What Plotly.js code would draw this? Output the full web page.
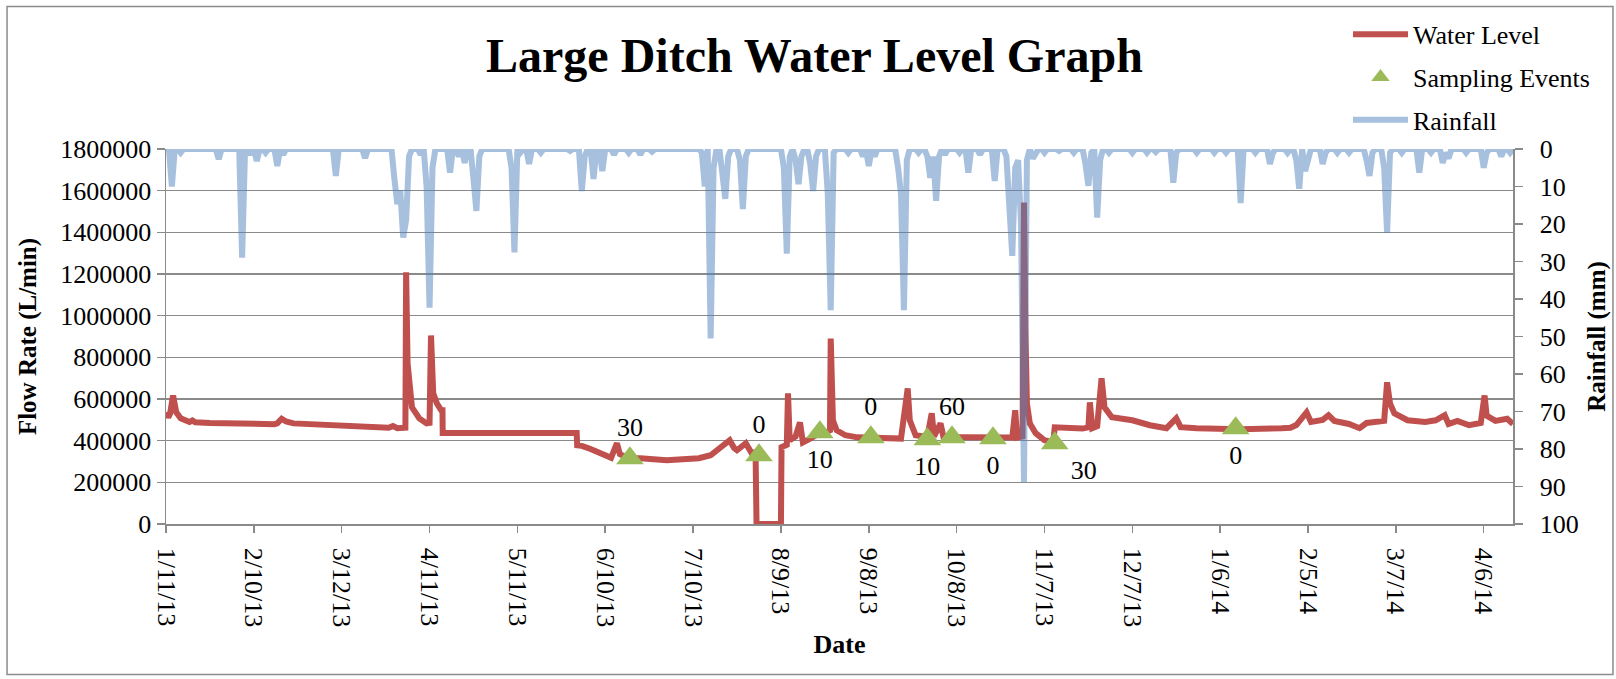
<!DOCTYPE html>
<html>
<head>
<meta charset="utf-8">
<script src="https://cdn.plot.ly/plotly-3.0.1.min.js"></script>
<style>
  html, body { margin: 0; padding: 0; background: #fff; }
  #chart { width: 1616px; height: 679px; }
</style>
</head>
<body>
<div id="chart"></div>
<script>
// ---------------- DATA ----------------
const wlDates = [
  '2013-01-11 00:00','2013-01-11 18:00','2013-01-12 10:00','2013-01-13 10:00','2013-01-14 12:00',
  '2013-01-16','2013-01-19','2013-01-20','2013-01-21','2013-01-26','2013-02-17','2013-02-18',
  '2013-02-19 12:00','2013-02-21','2013-02-23 12:00','2013-03-02','2013-03-07','2013-03-08',
  '2013-03-12','2013-03-18','2013-03-24','2013-03-28','2013-03-29 12:00','2013-03-31',
  '2013-04-02 18:00','2013-04-03 00:00','2013-04-03 12:00','2013-04-05 00:00','2013-04-07 12:00',
  '2013-04-10 00:00','2013-04-11 00:00','2013-04-11 12:00','2013-04-12 06:00','2013-04-13 12:00',
  '2013-04-15 00:00','2013-04-15 10:00','2013-04-15 12:00','2013-05-31 06:00','2013-05-31 10:00',
  '2013-06-02','2013-06-05','2013-06-08','2013-06-10','2013-06-12','2013-06-14','2013-06-15',
  '2013-06-18','2013-06-22','2013-07-01','2013-07-12','2013-07-16','2013-07-18','2013-07-20',
  '2013-07-22 12:00','2013-07-24','2013-07-25','2013-07-28','2013-07-30','2013-07-31 08:00',
  '2013-07-31 16:00','2013-08-09 00:00','2013-08-09 05:00','2013-08-11 00:00','2013-08-11 10:00',
  '2013-08-12','2013-08-14','2013-08-15 12:00','2013-08-16 12:00','2013-08-19','2013-08-21',
  '2013-08-24','2013-08-25 18:00','2013-08-26 00:00','2013-08-26 18:00','2013-08-28','2013-08-31',
  '2013-09-04','2013-09-13','2013-09-19','2013-09-21 07:00','2013-09-22','2013-09-24','2013-09-28',
  '2013-09-29 12:00','2013-09-30 07:00','2013-10-02 12:00','2013-10-03 12:00','2013-10-11 12:00',
  '2013-10-23','2013-10-27','2013-10-28 00:00','2013-10-28 16:00','2013-10-30 12:00',
  '2013-10-31 00:00','2013-10-31 12:00','2013-11-01','2013-11-02','2013-11-04','2013-11-07',
  '2013-11-10 00:00','2013-11-10 12:00','2013-11-15','2013-11-20','2013-11-22 00:00',
  '2013-11-22 12:00','2013-11-23 08:00','2013-11-25','2013-11-26 12:00','2013-11-27 12:00',
  '2013-11-30','2013-12-07','2013-12-13','2013-12-18 16:00','2013-12-22','2013-12-23 12:00',
  '2013-12-29','2014-01-10','2014-01-12 16:00','2014-01-27','2014-01-30','2014-02-01',
  '2014-02-04 12:00','2014-02-06','2014-02-10','2014-02-12','2014-02-14','2014-02-19',
  '2014-02-22 14:00','2014-02-25','2014-03-01','2014-03-03','2014-03-04','2014-03-05',
  '2014-03-06 12:00','2014-03-11','2014-03-17','2014-03-20 14:00','2014-03-23 16:00','2014-03-25',
  '2014-03-28','2014-04-01','2014-04-05','2014-04-06 07:00','2014-04-07','2014-04-10','2014-04-14',
  '2014-04-16'
];
const wlFlow = [
  536000,512000,530000,617000,536000,
  507000,490000,497000,488000,485000,479000,483000,
  505000,492000,483000,478000,474000,480000,
  472000,469000,466000,462000,470000,460000,
  462000,1208000,770000,560000,507000,
  483000,485000,905000,627000,579000,
  546000,546000,437000,437000,378000,
  375000,360000,345000,330000,318000,388000,335000,
  316000,316000,306000,316000,330000,354000,370000,
  402000,365000,354000,388000,340000,345000,
  0,0,369000,380000,627000,
  402000,420000,488000,392000,410000,426000,
  440000,450000,890000,498000,450000,426000,
  416000,412000,410000,651000,498000,426000,418000,
  531000,420000,483000,418000,416000,
  412000,415000,546000,415000,420000,
  1543000,929000,579000,483000,436000,402000,
  392000,464000,460000,458000,464000,
  584000,460000,470000,699000,560000,
  512000,498000,474000,460000,507000,465000,
  460000,450000,455000,460000,462000,475000,
  536000,490000,500000,522000,495000,480000,
  460000,485000,490000,495000,680000,579000,
  531000,498000,490000,498000,522000,480000,
  495000,474000,485000,617000,520000,495000,505000,
  480000
];

const sampleDates = ['2013-06-18 10:00','2013-08-01 12:00','2013-08-22 07:00','2013-09-08 17:00',
  '2013-09-28 00:00','2013-10-06 10:00','2013-10-20 10:00','2013-11-10 12:00','2014-01-11 07:00'];
const sampleFlow = [316000,330000,440000,416000,407000,416000,412000,388000,460000];
const sampleLabels = ['30','0','10','0','10','60','0','30','0'];

const rainDates = [
  '2013-01-13','2013-01-16','2013-01-29','2013-02-06','2013-02-09','2013-02-11','2013-02-14',
  '2013-02-18','2013-02-20','2013-03-10','2013-03-20','2013-03-30','2013-03-31','2013-04-01',
  '2013-04-02','2013-04-03','2013-04-04','2013-04-08','2013-04-10','2013-04-11','2013-04-12',
  '2013-04-18','2013-04-21','2013-04-23','2013-04-26','2013-04-27','2013-04-28','2013-05-09',
  '2013-05-10','2013-05-12','2013-05-15','2013-05-19','2013-05-29','2013-06-02','2013-06-03',
  '2013-06-06','2013-06-09','2013-06-13','2013-06-18','2013-06-22','2013-06-26','2013-07-13',
  '2013-07-14','2013-07-16','2013-07-17','2013-07-20','2013-07-21','2013-07-22','2013-07-26',
  '2013-07-27','2013-07-28','2013-08-10','2013-08-11','2013-08-12','2013-08-14','2013-08-15',
  '2013-08-16','2013-08-19','2013-08-20','2013-08-21','2013-08-25','2013-08-26','2013-08-27',
  '2013-09-01','2013-09-06','2013-09-08','2013-09-10','2013-09-18','2013-09-19','2013-09-20',
  '2013-09-21','2013-09-25','2013-09-28','2013-09-29','2013-09-30','2013-10-01','2013-10-02',
  '2013-10-04','2013-10-09','2013-10-12','2013-10-16','2013-10-21','2013-10-25','2013-10-26',
  '2013-10-27','2013-10-28','2013-10-29','2013-10-30','2013-10-31','2013-11-01','2013-11-03',
  '2013-11-04','2013-11-07','2013-11-12','2013-11-17','2013-11-21','2013-11-22','2013-11-23',
  '2013-11-25','2013-11-26','2013-11-29','2013-12-07','2013-12-12','2013-12-15','2013-12-21',
  '2013-12-22','2013-12-29','2014-01-04','2014-01-08','2014-01-13','2014-01-18','2014-01-23',
  '2014-01-24','2014-01-29','2014-02-01','2014-02-02','2014-02-04','2014-02-05','2014-02-10',
  '2014-02-11','2014-02-15','2014-02-19','2014-02-25','2014-02-26','2014-02-27','2014-03-03',
  '2014-03-04','2014-03-05','2014-03-09','2014-03-15','2014-03-19','2014-03-23','2014-03-24',
  '2014-03-25','2014-03-31','2014-04-06','2014-04-07','2014-04-12','2014-04-15'
];
const rainMm = [
  10,1,2.7,29,1.5,3.2,1,
  4.5,1.5,7.2,2.4,8,14.7,11,
  23.6,19,2,1.5,10,42.3,5,
  6.3,2,3.7,8,16.5,2,5,
  27.6,1,4,1,0.5,11.2,2,
  8,5.9,1.5,1,1.5,0.7,1,
  10,50.5,5,8,13.3,2,3,
  16,2,5,27.9,2,3,9.4,
  2,4,11.2,2,12,43,1,
  1,2,4.5,2,5,12,43,
  3,1,2,7.7,2,13.8,2,
  1.5,1,6.3,1.5,8.5,2,14,
  28.5,5,3,20,88.8,3,2.5,
  1,1,0.5,1,4,9.8,1,
  18.3,3,1,1,1,0.8,9,
  1,1,1,1,14.4,1,4,
  1,1,3,10.6,5.9,2,4,
  1,1,1,3,7.2,1,5,
  22.3,1,1,6.3,1,3.7,1,
  2.5,1,5,1,2,1
];
const rainStart = '2013-01-11';
const rainEnd = '2014-04-16';

const xTickStart = '2013-01-11';
const xTickDays = 30;

// ---------------- BUILD DAILY RAIN SERIES (dry days = 0) ----------------
const rainLookup = {};
rainDates.forEach((d, i) => { rainLookup[d] = rainMm[i]; });
const rainX = [], rainY = [];
(function () {
  const d = new Date(rainStart + 'T00:00:00Z');
  const end = new Date(rainEnd + 'T00:00:00Z');
  while (d <= end) {
    const s = d.toISOString().slice(0, 10);
    rainX.push(s);
    rainY.push(rainLookup[s] !== undefined ? rainLookup[s] : 0);
    d.setUTCDate(d.getUTCDate() + 1);
  }
})();

// ---------------- STYLE ----------------
const FONT = 'Liberation Serif, Times New Roman, serif';
const GRID = '#8a8a8a';
const labelPos = ['top center','top center','bottom center','top center','bottom center',
  'top center','bottom center','bottom right','bottom center'];

const traces = [
  {
    name: 'Water Level', x: wlDates, y: wlFlow, type: 'scatter', mode: 'lines',
    line: { color: '#C0504D', width: 6 }, legendgroup: 'a', yaxis: 'y'
  },
  {
    name: 'Sampling Events', x: sampleDates, y: sampleFlow, type: 'scatter', mode: 'markers',
    marker: { symbol: 'triangle-up', size: 24, color: '#9BBB59' }, legendgroup: 'b', yaxis: 'y'
  },
  {
    name: 'labels', x: sampleDates, y: sampleFlow, type: 'scatter', mode: 'markers+text',
    text: sampleLabels, textposition: labelPos, showlegend: false, legendgroup: 'b',
    marker: { symbol: 'triangle-up', size: 24, opacity: 0, color: '#9BBB59' },
    textfont: { family: FONT, size: 26, color: '#000' }, yaxis: 'y'
  },
  {
    name: 'Rainfall', x: rainX, y: rainY, type: 'scatter', mode: 'lines',
    line: { color: 'rgba(79,129,189,0.5)', width: 6 }, legendgroup: 'c', yaxis: 'y2'
  }
];

const layout = {
  width: 1616, height: 679,
  margin: { l: 166, r: 103, t: 148, b: 155 },
  paper_bgcolor: '#fff', plot_bgcolor: '#fff',
  showlegend: true,
  title: {
    text: 'Large Ditch Water Level Graph',
    font: { family: FONT, size: 48, weight: 'bold', color: '#000' },
    x: 0.504, xref: 'container', xanchor: 'center',
    y: 0.918, yref: 'container', yanchor: 'middle'
  },
  xaxis: {
    type: 'date', range: ['2013-01-11', '2014-04-16'],
    tick0: xTickStart, dtick: xTickDays * 86400000, tickformat: '%-m/%-d/%y',
    tickangle: 90, ticks: 'outside', ticklen: 7, tickcolor: GRID, tickwidth: 1.5,
    ticklabelstandoff: 10,
    showgrid: false, showline: true, linecolor: GRID, linewidth: 1.5, zeroline: false,
    tickfont: { family: FONT, size: 26, color: '#000' },
    title: { text: 'Date', font: { family: FONT, size: 26, weight: 'bold', color: '#000' }, standoff: 8 }
  },
  yaxis: {
    range: [0, 1800000], tick0: 0, dtick: 200000, tickformat: 'd',
    ticks: 'outside', ticklen: 8, tickcolor: GRID, tickwidth: 1.5,
    showgrid: true, gridcolor: GRID, gridwidth: 1.5,
    showline: true, linecolor: GRID, linewidth: 1.5, zeroline: false,
    tickfont: { family: FONT, size: 26, color: '#000' },
    title: { text: 'Flow Rate (L/min)', font: { family: FONT, size: 25, weight: 'bold', color: '#000' }, standoff: 16 }
  },
  yaxis2: {
    range: [100, 0], tick0: 0, dtick: 10, overlaying: 'y', side: 'right',
    ticks: 'outside', ticklen: 8, tickcolor: GRID, tickwidth: 1.5,
    ticklabelstandoff: 12,
    showgrid: false, showline: true, linecolor: GRID, linewidth: 1.5, zeroline: false,
    tickfont: { family: FONT, size: 26, color: '#000' },
    title: { text: 'Rainfall (mm)', font: { family: FONT, size: 25, weight: 'bold', color: '#000' }, standoff: 10 }
  },
  legend: {
    x: 0.8775, xanchor: 'left', y: 1.365, yanchor: 'top',
    font: { family: FONT, size: 26, color: '#000' }, itemwidth: 55,
    bgcolor: 'rgba(0,0,0,0)', tracegroupgap: 6, traceorder: 'grouped'
  },
  shapes: [{
    type: 'rect', xref: 'paper', yref: 'paper', layer: 'below',
    x0: -0.118, x1: 1.0742, y0: -0.4016, y1: 1.3803,
    line: { color: '#8c8c8c', width: 1.5 }
  }]
};

Plotly.newPlot('chart', traces, layout, { displayModeBar: false, staticPlot: true });
</script>
</body>
</html>
